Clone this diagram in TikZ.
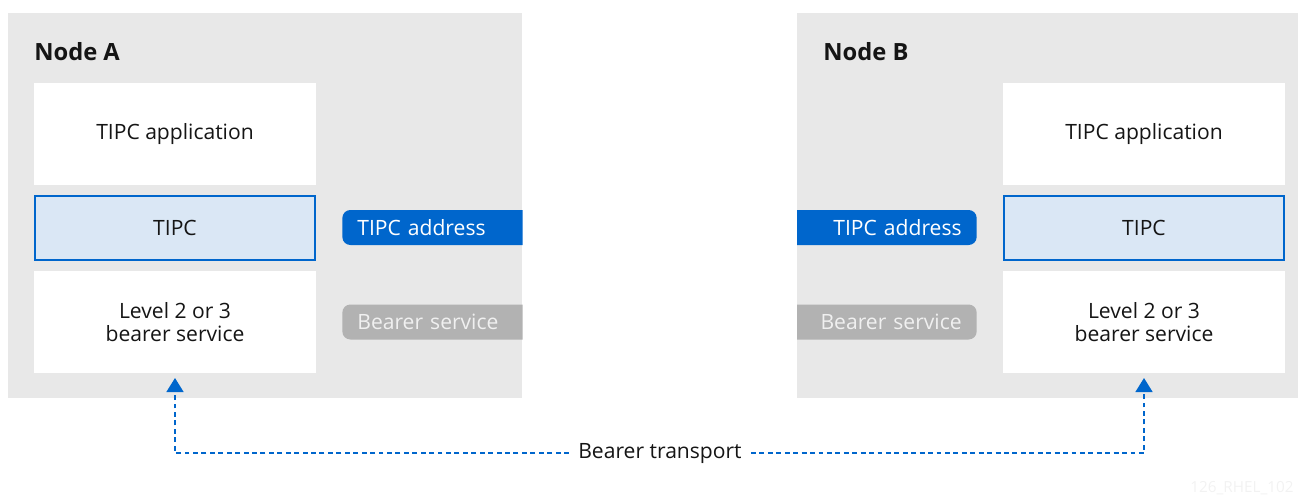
\documentclass[tikz,border=0pt]{standalone}
\usepackage{fontspec}
\setmainfont{Open Sans}
\usepackage{xcolor}
\usetikzlibrary{arrows.meta,positioning}
\definecolor{panelgray}{HTML}{E8E8E8}
\definecolor{rhblue}{HTML}{0066CC}
\definecolor{tipcfill}{HTML}{DAE7F5}
\definecolor{tabgray}{HTML}{B2B2B2}
\definecolor{inkdark}{HTML}{151515}
\definecolor{tabtext}{HTML}{F0F0F0}
\definecolor{markgray}{HTML}{F2F2F2}

\begin{document}
\begin{tikzpicture}[x=0.02cm, y=-0.02cm,
    panel/.style={rectangle, fill=panelgray, anchor=north west, inner sep=0pt, minimum height=7.7cm},
    nodetitle/.style={anchor=base west, inner sep=0pt, text=inkdark, font=\fontsize{13.5}{16}\selectfont\bfseries},
    layerbox/.style={rectangle, fill=white, minimum width=5.64cm, minimum height=2.04cm, align=center, text=inkdark, font=\fontsize{12}{13}\selectfont},
    tipcbox/.style={layerbox, fill=tipcfill, draw=rhblue, line width=1.13pt, minimum width=5.6cm, minimum height=1.28cm},
    tab/.style={rectangle, rounded corners=0.16cm, minimum height=0.7cm, text width=3.4cm, inner xsep=0.3cm, inner ysep=0pt, font=\fontsize{12}{13}\selectfont},
    transport/.style={rhblue, line width=0.85pt, dash pattern=on 2.8pt off 2pt},
    uparrow/.style={-{Triangle[width=0.34cm, length=0.28cm]}}
]
    \useasboundingbox (0,0) rectangle (1298,495);

    % the two hosts
    \node[panel, minimum width=10.28cm] (panelA) at (8,13) {};
    \node[panel, minimum width=10.02cm] (panelB) at (797,13) {};

    \node[nodetitle] (titleA) at (34,60) {Node A};
    \node[nodetitle] (titleB) at (823,60) {Node B};

    % protocol stacks
    \node[layerbox] (appA) at (175,134) {TIPC application};
    \node[tipcbox] (tipcA) at (175,228) {TIPC};
    \node[layerbox] (lvlA) at (175,322) {Level 2 or 3\\bearer service};

    \node[layerbox] (appB) at (1144,134) {TIPC application};
    \node[tipcbox] (tipcB) at (1144,228) {TIPC};
    \node[layerbox] (lvlB) at (1144,322) {Level 2 or 3\\bearer service};

    % tabs on the inner edges
    \begin{scope}
        \clip (panelA.north west) rectangle (panelA.south east);
        \node[tab, anchor=west, align=left, fill=rhblue, text=white] (addrA) at (342,227.5) {TIPC address};
        \node[tab, anchor=west, align=left, fill=tabgray, text=tabtext] (servA) at (342,322) {Bearer service};
    \end{scope}
    \begin{scope}
        \clip (panelB.north west) rectangle (panelB.south east);
        \node[tab, anchor=east, align=right, fill=rhblue, text=white] (addrB) at (977,227.5) {TIPC address};
        \node[tab, anchor=east, align=right, fill=tabgray, text=tabtext] (servB) at (977,322) {Bearer service};
    \end{scope}

    % bearer transport
    \coordinate (tipA) at (175,378);
    \coordinate (tipB) at (1144,378);
    \node[fill=white, inner xsep=0.18cm, text=inkdark, font=\fontsize{12}{13}\selectfont] (bt) at (660,453) {Bearer transport};
    \draw[transport, uparrow] (bt.west) -| (tipA);
    \draw[transport, uparrow] (bt.east) -| (tipB);

    \node[anchor=base east, inner sep=0pt, text=markgray, font=\fontsize{8.7}{10}\selectfont] (mark) at (1294,492) {126\_RHEL\_102};
\end{tikzpicture}
\end{document}
